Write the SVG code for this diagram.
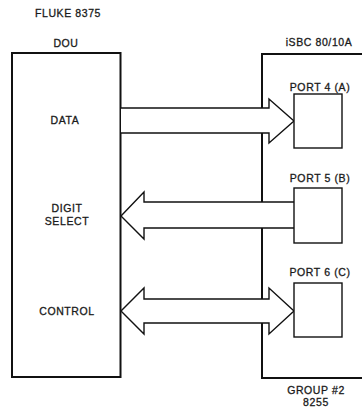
<svg xmlns="http://www.w3.org/2000/svg" width="362" height="408" viewBox="0 0 362 408">
<style>
text{font-family:"Liberation Sans",Arial,sans-serif;font-size:10.5px;fill:#1a1a1a;stroke:#1a1a1a;stroke-width:0.3;letter-spacing:0.6px;text-anchor:middle}
.box{fill:none;stroke:#111;stroke-width:2}
.port{fill:#fff;stroke:#111;stroke-width:1.4}
.arr{fill:#fff;stroke:#111;stroke-width:1.4;stroke-linejoin:miter}
</style>
<rect width="362" height="408" fill="#fff"/>
<text x="68" y="17">FLUKE 8375</text>
<g id="dou">
<rect class="box" x="12" y="53" width="108.5" height="324"/>
<text x="66" y="47">DOU</text>
<text x="65" y="124">DATA</text>
<text x="67" y="212">DIGIT</text>
<text x="67" y="225">SELECT</text>
<text x="67" y="315">CONTROL</text>
</g>
<g id="isbc">
<polyline class="box" points="362,54 262,54 262,378 362,378"/>
<text x="319" y="46">iSBC 80/10A</text>
<text x="316" y="394">GROUP #2</text>
<text x="316" y="406">8255</text>
</g>
<g id="connectors">
<polygon points="121,108 269,108 269,99 294,121 269,143 269,133 121,133" fill="#fff"/>
<polyline class="arr" points="121,108 269,108 269,99 294,121 269,143 269,133 121,133" fill="none"/>
<polygon points="294,202 144,202 144,192 121,216 144,239 144,228 294,228" fill="#fff"/>
<polyline class="arr" points="294,202 144,202 144,192 121,216 144,239 144,228 294,228" fill="none"/>
<polygon class="arr" points="121,311 144,288 144,299 269,299 269,288 294,311 269,334 269,323 144,323 144,334"/>
</g>
<g id="port4">
<text x="320" y="91">PORT 4 (A)</text>
<rect class="port" x="294" y="94" width="48" height="54"/>
</g>
<g id="port5">
<text x="320" y="182">PORT 5 (B)</text>
<rect class="port" x="294" y="188" width="48" height="55"/>
</g>
<g id="port6">
<text x="320" y="276">PORT 6 (C)</text>
<rect class="port" x="294" y="283" width="48" height="54"/>
</g>
</svg>
